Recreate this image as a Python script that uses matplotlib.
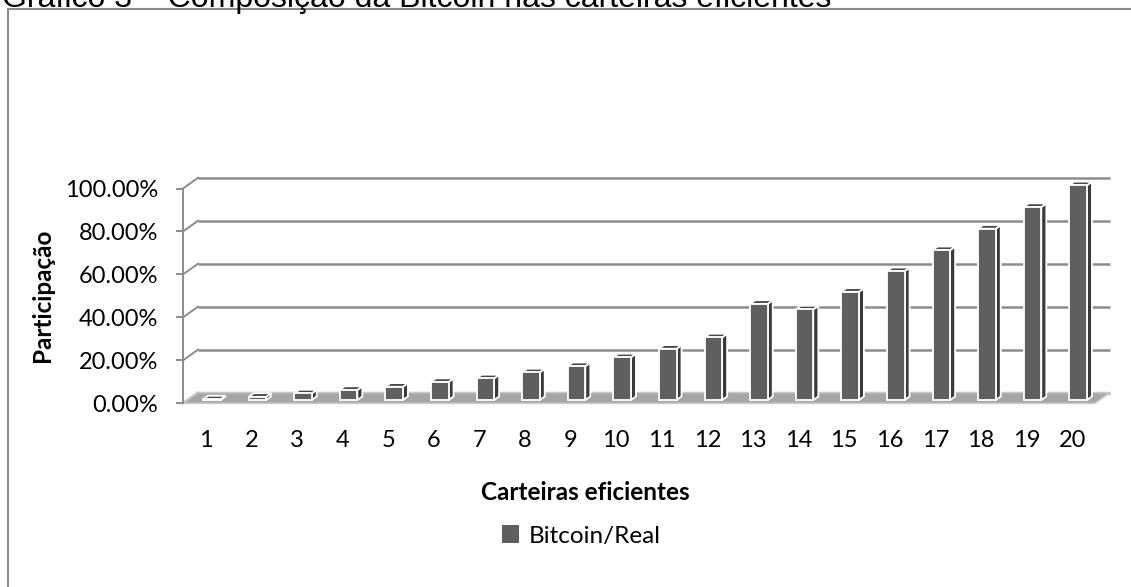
import matplotlib.pyplot as plt
from matplotlib.patches import Polygon
from matplotlib.lines import Line2D

# data
categories = [str(i) for i in range(1, 21)]
bitcoin_real = [0.003, 0.015, 0.031, 0.047, 0.062, 0.084, 0.101, 0.129, 0.158, 0.199,
                0.239, 0.292, 0.448, 0.422, 0.504, 0.600, 0.698, 0.798, 0.899, 1.000]
y_ticks = [0.0, 0.2, 0.4, 0.6, 0.8, 1.0]
y_tick_labels = ['0.00%', '20.00%', '40.00%', '60.00%', '80.00%', '100.00%']

title = 'Gráfico 3 – Composição da Bitcoin nas carteiras eficientes'
series_name = 'Bitcoin/Real'

W, H = 1131, 587
fig = plt.figure(figsize=(W / 100, H / 100), dpi=100)
fig.set(facecolor='white')

plt.rcParams['font.family'] = ['Lato', 'DejaVu Sans']

ax = fig.add_axes([183 / W, (H - 403.3) / H, 912 / W, 214.8 / H])
ax.set_xlim(0, len(categories))
ax.set_ylim(0, 1)
ax.patch.set_visible(False)

# pseudo 3D depth (in data units)
wall_dx, wall_dy = 0.33, 0.05
bar_x0, bar_y0 = 0.13, 0.015
bar_w = 0.385
bar_dx, bar_dy = 0.11, 0.017

grid_c = '#8c8c8c'
front_c = '#5f5f5f'
side_c = '#3a3a3a'
top_c = '#474747'

n = len(categories)

# back wall gridlines + side wall diagonals
for t in y_ticks:
    ax.plot([wall_dx, n + wall_dx], [t + wall_dy, t + wall_dy], color=grid_c, lw=1.8,
            zorder=1, clip_on=False, solid_capstyle='butt')
    ax.plot([0, wall_dx], [t, t + wall_dy], color=grid_c, lw=1.4, zorder=1, clip_on=False)

# floor
floor = Polygon([(0, 0), (n, 0), (n + wall_dx, wall_dy), (wall_dx, wall_dy)],
                closed=True, facecolor='#a6a6a6', edgecolor='#c8c8c8', lw=1.2,
                zorder=2, clip_on=False)
ax.add_patch(floor)

# bars: front faces
xs = [i + 0.5 + bar_x0 for i in range(n)]
ax.bar(xs, bitcoin_real, width=bar_w, bottom=bar_y0, color=front_c, edgecolor='white',
       linewidth=1.3, zorder=4, clip_on=False, label=series_name)

# bars: side and top faces
for x, v in zip(xs, bitcoin_real):
    xl, xr = x - bar_w / 2, x + bar_w / 2
    yb, yt = bar_y0, bar_y0 + v
    side = Polygon([(xr, yb), (xr, yt), (xr + bar_dx, yt + bar_dy), (xr + bar_dx, yb + bar_dy)],
                   closed=True, facecolor=side_c, edgecolor='white', lw=1.3, zorder=3,
                   clip_on=False)
    top = Polygon([(xl, yt), (xr, yt), (xr + bar_dx, yt + bar_dy), (xl + bar_dx, yt + bar_dy)],
                  closed=True, facecolor=top_c, edgecolor='white', lw=1.3, zorder=3,
                  clip_on=False)
    ax.add_patch(side)
    ax.add_patch(top)

# axes
for s in ['top', 'right', 'bottom']:
    ax.spines[s].set_visible(False)
ax.spines['left'].set_color(grid_c)
ax.spines['left'].set_linewidth(1.4)
ax.spines['left'].set_zorder(5)

ax.set_yticks(y_ticks)
ax.set_yticklabels(y_tick_labels)
ax.tick_params(axis='y', length=5, width=1.4, color=grid_c, pad=13, labelsize=17,
               labelcolor='black')
ax.set_xticks([i + 0.5 for i in range(n)])
ax.set_xticklabels(categories)
ax.tick_params(axis='x', length=0, pad=19, labelsize=17, labelcolor='black')

fig.text(43 / W, 1 - 295 / H, 'Participação', rotation=90, ha='center', va='center',
         fontsize=17.5, fontweight='bold')
fig.text(585 / W, 1 - 492 / H, 'Carteiras eficientes', ha='center', va='center',
         fontsize=17.5, fontweight='bold')

leg = fig.legend(loc='center', bbox_to_anchor=(581 / W, 1 - 536 / H), frameon=False,
                 fontsize=17.5, handlelength=0.7, handleheight=0.7, handletextpad=0.4)
for h in leg.legend_handles:
    h.set_edgecolor('none')

# title (cut at the top edge, as in the source image)
fig.text(2 / W, 1 - 7 / H, title, ha='left', va='baseline', fontsize=23,
         family='Liberation Sans')

# outer frame: only left and top edges visible
fig.add_artist(Line2D([8 / W, 8 / W], [0, 1 - 8.5 / H], color=grid_c, lw=1.5))
fig.add_artist(Line2D([8 / W, 1], [1 - 8.5 / H, 1 - 8.5 / H], color=grid_c, lw=1.5))

fig.savefig('out.png', dpi=100)
